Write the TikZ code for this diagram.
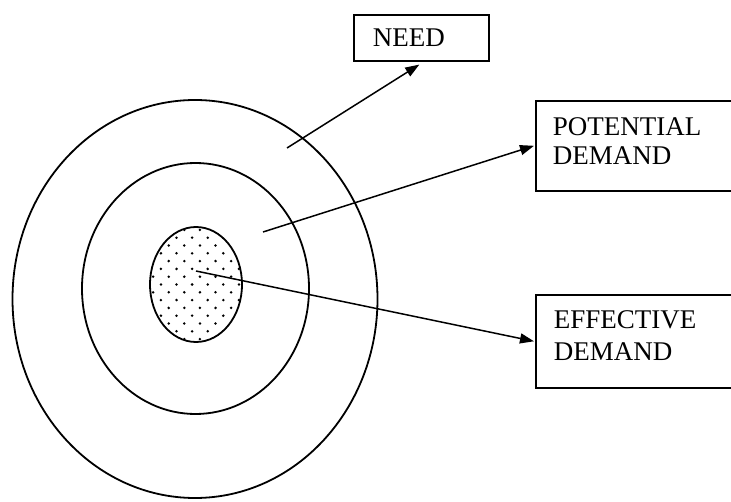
\documentclass[tikz,border=0pt]{standalone}
\usepackage{fontspec}
\setmainfont{Liberation Serif}
\usetikzlibrary{arrows.meta}
\tikzset{
  ring/.style={line width=1.8pt},
  labelbox/.style={draw, line width=1.6pt, rectangle, align=left,
    font=\fontsize{27}{30}\selectfont},
  pointer/.style={line width=1.5pt, -{Triangle[length=14pt,width=10pt]}},
  dot/.style={fill=black}
}
\begin{document}
\begin{tikzpicture}[x=1pt,y=-1pt]
\fill[white] (0,0) rectangle (731,502);
\useasboundingbox (0,0) rectangle (731,502);
% rings
\draw[ring] (195,299) ellipse (182.5 and 199);
\draw[ring] (195.5,288.5) ellipse (113.5 and 125.5);
% dotted core
\begin{scope}
  \clip (196,284.5) ellipse (45.5 and 57);
  \foreach \r in {0,...,16}{
    \pgfmathsetmacro\yy{284.5+(\r-8)*7.8}
    \pgfmathsetmacro\xo{mod(\r,2)*7.8}
    \foreach \c in {-4,...,4}{
      \fill[dot] ({196+\c*15.6+\xo-3.9},\yy) circle (1.4);
    }
  }
\end{scope}
\draw[ring] (196,284.5) ellipse (46 and 57.5);
% boxes
\node[labelbox, anchor=north west, minimum width=135pt, minimum height=46pt,
      text width=97pt, inner xsep=19pt] (need) at (353,14) {NEED};
\node[labelbox, anchor=north west, minimum width=210pt, minimum height=90pt,
      text width=176pt, inner xsep=17pt, text depth=38pt,
      font=\fontsize{27}{29}\selectfont] (pot) at (535,100) {POTENTIAL\\DEMAND};
\node[labelbox, anchor=north west, minimum width=210pt, minimum height=93pt,
      text width=176pt, inner xsep=18pt, text depth=44pt,
      font=\fontsize{27}{32}\selectfont] (eff) at (535,294) {EFFECTIVE\\DEMAND};
% connector start points
\coordinate (sneed) at (287,148);
\coordinate (spot) at (263,232);
\coordinate (seff) at (196,271);
\draw[pointer] (sneed) -- ([xshift=-2pt,yshift=-3pt]need.south);
\draw[pointer] (spot) -- ([xshift=-1pt]pot.west);
\draw[pointer] (seff) -- ([xshift=-1pt]eff.west);
\end{tikzpicture}
\end{document}
